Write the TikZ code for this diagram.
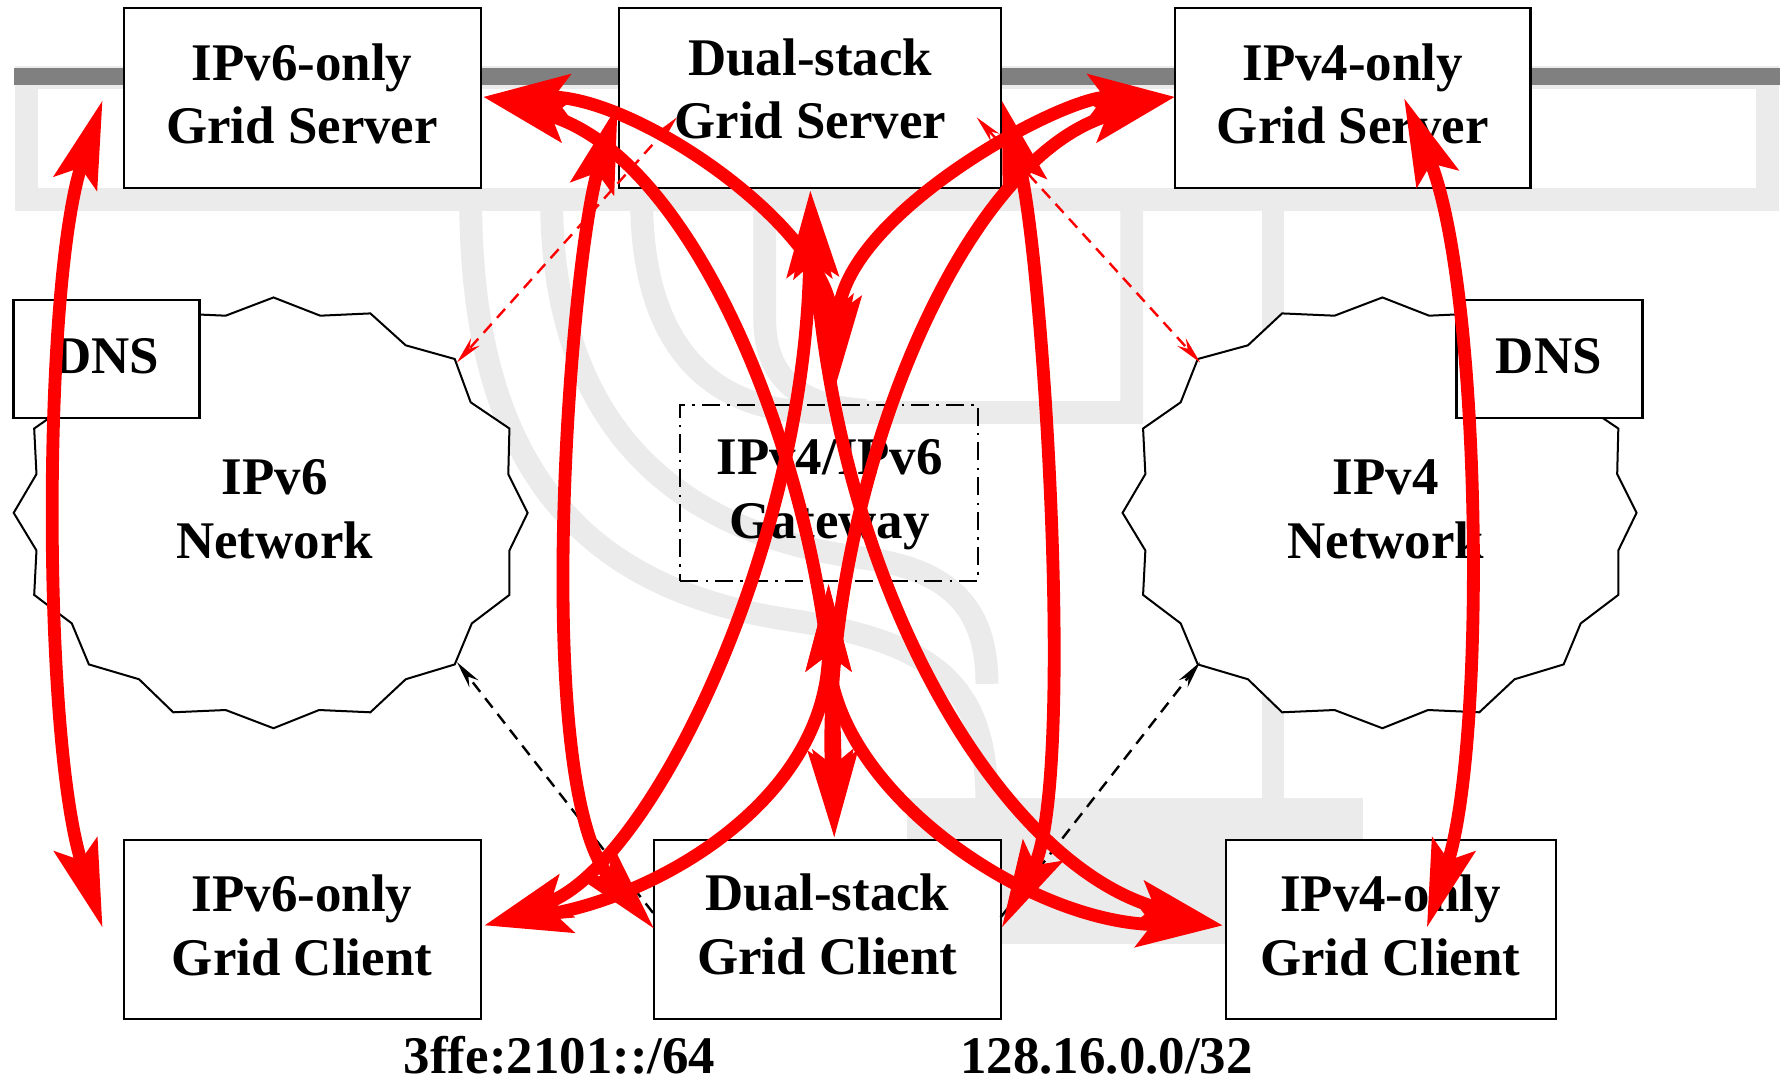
\documentclass[tikz,border=0pt]{standalone}
\usepackage{fontspec}
\setmainfont{Liberation Serif}
\usetikzlibrary{arrows.meta}
\begin{document}
\begin{tikzpicture}[x=0.01cm,y=-0.01cm,
  box/.style={draw=black,line width=0.6pt,fill=white,inner sep=0pt},
  gwbox/.style={draw=black,line width=0.5pt,dash pattern=on 4.5pt off 1.8pt on 0.6pt off 1.8pt,inner sep=0pt},
  lbl/.style={font=\fontsize{13.2}{15.9}\selectfont\bfseries,align=center,inner sep=0pt},
  wm/.style={line width=0.2cm,draw=black!8},
  cloudline/.style={draw=black,line width=0.5pt,fill=white},
  redarrow/.style={draw=red,line width=3.2pt,arrows={Stealth[length=0.76cm,width=0.39cm,inset=0.14cm]-Stealth[length=0.76cm,width=0.39cm,inset=0.14cm]}},
  reddash/.style={draw=red,line width=0.6pt,dash pattern=on 3pt off 2pt,arrows={Stealth[length=0.24cm,width=0.1cm]-Stealth[length=0.24cm,width=0.1cm]}},
  blackdash/.style={draw=black,line width=0.6pt,dash pattern=on 3pt off 2pt,arrows={-Stealth[length=0.24cm,width=0.1cm]}}
]
\useasboundingbox (0,0) rectangle (1568,948);
\fill[white] (0,0) rectangle (1568,948);

% faint watermark
\fill[black!8] (796,700) rectangle (1196,828);
\draw[wm] (23,68) rectangle (1551,175);
\draw[wm] (413,175) .. controls (413,420) and (520,520) .. (700,545) .. controls (820,565) and (866,600) .. (866,705);
\draw[wm] (484,175) .. controls (484,380) and (600,470) .. (760,490) .. controls (830,500) and (866,530) .. (866,600);
\draw[wm] (563,175) .. controls (563,300) and (620,362) .. (720,362) -- (993,362) -- (993,175);
\draw[wm] (671,175) -- (671,280) .. controls (671,330) and (700,357) .. (760,360);
\draw[wm] (1117,175) -- (1117,705);

% dark bar
\fill[gray] (12,60) rectangle (1562,75);

% clouds
\draw[cloudline,shift={(240,450)}] (0,-189) -- (41,-173) -- (85,-175) -- (116,-147) -- (159,-135) -- (173,-97) -- (207,-74) -- (206,-34) -- (223,0) -- (207,33) -- (207,72) -- (174,97) -- (159,133) -- (116,146) -- (85,175) -- (40,173) -- (0,189) -- (-42,173) -- (-88,175) -- (-118,146) -- (-162,133) -- (-177,97) -- (-210,72) -- (-208,33) -- (-228,0) -- (-208,-34) -- (-210,-74) -- (-177,-97) -- (-162,-135) -- (-118,-147) -- (-88,-175) -- (-42,-173) -- cycle;
\draw[cloudline,shift={(1213,450)}] (0,-189) -- (41,-173) -- (85,-175) -- (116,-147) -- (159,-135) -- (173,-97) -- (207,-74) -- (206,-34) -- (223,0) -- (207,33) -- (207,72) -- (174,97) -- (159,133) -- (116,146) -- (85,175) -- (40,173) -- (0,189) -- (-42,173) -- (-88,175) -- (-118,146) -- (-162,133) -- (-177,97) -- (-210,72) -- (-208,33) -- (-228,0) -- (-208,-34) -- (-210,-74) -- (-177,-97) -- (-162,-135) -- (-118,-147) -- (-88,-175) -- (-42,-173) -- cycle;

% boxes
\node[box,minimum width=3.13cm,minimum height=1.58cm] (v6srv) at (265.5,86) {};
\node[box,minimum width=3.35cm,minimum height=1.58cm] (dsrv) at (710.5,86) {};
\node[box,minimum width=3.12cm,minimum height=1.58cm] (v4srv) at (1187,86) {};
\node[box,minimum width=1.63cm,minimum height=1.04cm] (dnsL) at (93.5,315) {};
\node[box,minimum width=1.63cm,minimum height=1.04cm] (dnsR) at (1359.5,315) {};
\node[gwbox,minimum width=2.61cm,minimum height=1.55cm] (gw) at (727.5,432.5) {};
\node[box,minimum width=3.13cm,minimum height=1.57cm] (v6cli) at (265.5,815.5) {};
\node[box,minimum width=3.04cm,minimum height=1.57cm] (dcli) at (726,815.5) {};
\node[box,minimum width=2.89cm,minimum height=1.57cm] (v4cli) at (1220.5,815.5) {};

% texts
\node[lbl] (t6s) at (265,82.5) {IPv6-only\\Grid Server};
\node[lbl] (tds) at (711,78) {Dual-stack\\Grid Server};
\node[lbl] (t4s) at (1187,82.5) {IPv4-only\\Grid Server};
\node[lbl] (tdnsL) at (93,312.5) {DNS};
\node[lbl] (tdnsR) at (1359,312.5) {DNS};
\node[lbl] (t6n) at (241,447) {IPv6\\Network};
\node[lbl] (t4n) at (1216,447) {IPv4\\Network};
\node[lbl] (tgw) at (728,434) {IPv4/IPv6\\Gateway};
\node[lbl] (t6c) at (265,812) {IPv6-only\\Grid Client};
\node[lbl] (tdc) at (726,811) {Dual-stack\\Grid Client};
\node[lbl] (t4c) at (1220,812) {IPv4-only\\Grid Client};
\node[lbl,anchor=base] (l6) at (491,942) {3ffe:2101::/64};
\node[lbl,anchor=base] (l4) at (971,942) {128.16.0.0/32};

% connector end points
\coordinate (a1) at (90,88);
\coordinate (a2) at (90,814);
\coordinate (b1) at (1232,86);
\coordinate (b2) at (1252,814);
\coordinate (s6) at (424,85);
\coordinate (s4) at (1031,85);
\coordinate (sdW) at (542,92);
\coordinate (sdE) at (879,88);
\coordinate (sdS) at (711,167);
\coordinate (gwN) at (734,336);
\coordinate (gwS) at (727,512);
\coordinate (c6) at (425,812);
\coordinate (c4) at (1073,812);
\coordinate (cdW) at (574,815);
\coordinate (cdE) at (879,814);
\coordinate (cdN) at (732,735);
\coordinate (n6a) at (401,318);
\coordinate (n6b) at (401,581);
\coordinate (n4a) at (1053,318);
\coordinate (n4b) at (1053,581);
\coordinate (dsx) at (594,103);
\coordinate (dsy) at (857,103);
\coordinate (dcx) at (573,801);
\coordinate (dcy) at (878,805);

% thin dashed connectors
\draw[reddash] (dsx) -- (n6a);
\draw[reddash] (dsy) -- (n4a);
\draw[blackdash] (dcx) -- (n6b);
\draw[blackdash] (dcy) -- (n4b);

% thick red connectors
\draw[redarrow] (a1) .. controls (37,250) and (37,650) .. (a2);
\draw[redarrow] (b1) .. controls (1300,250) and (1305,650) .. (b2);
\draw[redarrow] (sdW) .. controls (500,230) and (465,690) .. (cdW);
\draw[redarrow] (sdE) .. controls (915,220) and (945,690) .. (cdE);
\draw[redarrow] (s6) .. controls (560,85) and (725,200) .. (gwN);
\draw[redarrow] (s4) .. controls (930,85) and (738,190) .. (gwN);
\draw[redarrow] (s6) .. controls (620,140) and (735,450) .. (cdN);
\draw[redarrow] (s4) .. controls (835,140) and (720,450) .. (cdN);
\draw[redarrow] (sdS) .. controls (708,480) and (570,760) .. (c6);
\draw[redarrow] (sdS) .. controls (735,520) and (880,760) .. (c4);
\draw[redarrow] (gwS) .. controls (727,700) and (580,785) .. (c6);
\draw[redarrow] (gwS) .. controls (727,690) and (900,810) .. (c4);
\end{tikzpicture}
\end{document}
